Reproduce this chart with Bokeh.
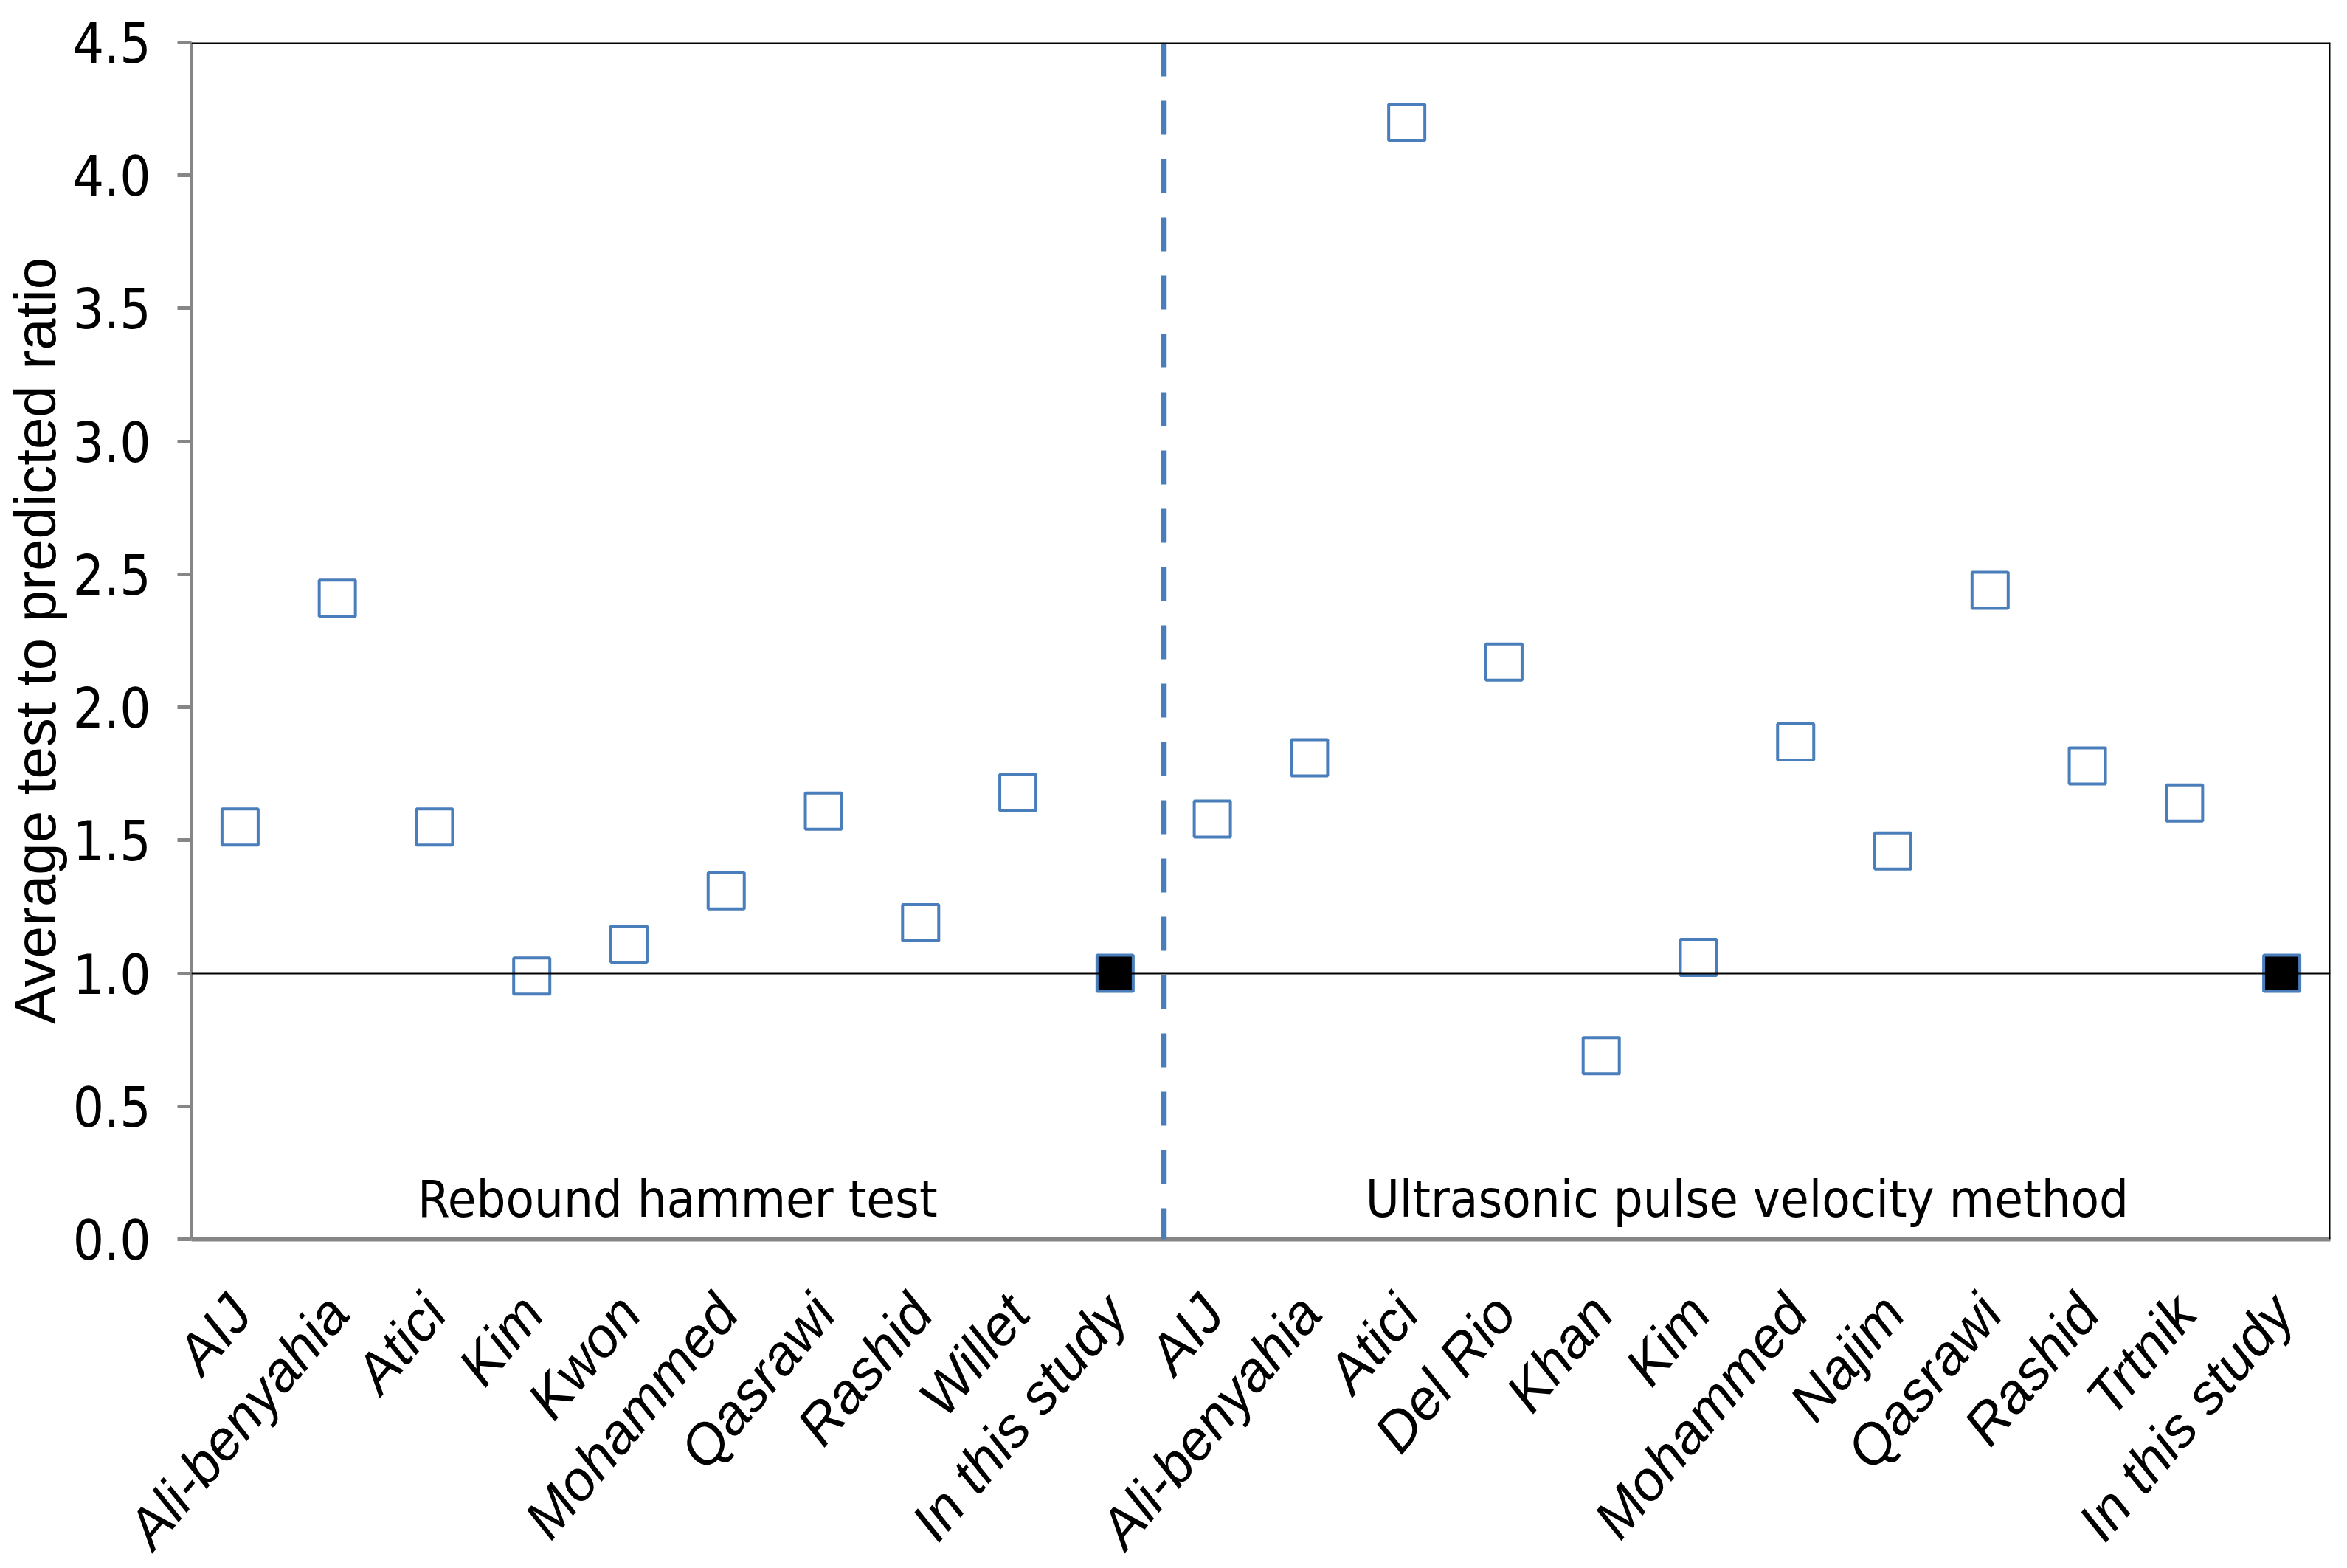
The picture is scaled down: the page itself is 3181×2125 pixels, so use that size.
import math
from bokeh.plotting import figure
from bokeh.models import ColumnDataSource, FixedTicker, Span, Label
from bokeh.embed import file_html
from bokeh.resources import INLINE

# ---- data ----
rebound_labels = ["AIJ", "Ali-benyahia", "Atici", "Kim", "Kwon", "Mohammed",
                  "Qasrawi", "Rashid", "Willet", "In this study"]
rebound_values = [1.55, 2.41, 1.55, 0.99, 1.11, 1.31, 1.61, 1.19, 1.68, 1.00]

upv_labels = ["AIJ", "Ali-benyahia", "Atici", "Del Rio", "Khan", "Kim", "Mohammed",
              "Najim", "Qasrawi", "Rashid", "Trtnik", "In this study"]
upv_values = [1.58, 1.81, 4.20, 2.17, 0.69, 1.06, 1.87, 1.46, 2.44, 1.78, 1.64, 1.00]

section_titles = ["Rebound hammer test", "Ultrasonic pulse velocity method"]
y_ticks = [0.0, 0.5, 1.0, 1.5, 2.0, 2.5, 3.0, 3.5, 4.0, 4.5]
y_label = "Average test to predicted ratio"
reference_ratio = 1.0

BLUE = "#4A7EBB"
GRAY = "#868686"
NARROW = ("'Liberation Sans Narrow', 'DejaVu Sans Condensed', 'Roboto Condensed', "
          "'Arial Narrow', 'Liberation Sans', sans-serif")
SANS = "'Liberation Sans', Arial, sans-serif"

all_labels = rebound_labels + upv_labels
all_values = rebound_values + upv_values
n_reb = len(rebound_labels)
n_all = len(all_labels)
xs = [i + 0.5 for i in range(n_all)]
is_study = [lab == "In this study" for lab in all_labels]

open_src = ColumnDataSource(dict(
    x=[x for x, s in zip(xs, is_study) if not s],
    y=[v for v, s in zip(all_values, is_study) if not s]))
study_src = ColumnDataSource(dict(
    x=[x for x, s in zip(xs, is_study) if s],
    y=[v for v, s in zip(all_values, is_study) if s]))

p = figure(frame_width=2899, frame_height=1622,
           x_range=(0, n_all), y_range=(0, 4.5),
           output_backend="svg", toolbar_location=None,
           min_border_left=250, min_border_right=16,
           min_border_top=57, min_border_bottom=300)
p.outline_line_color = None
p.xgrid.visible = False
p.ygrid.visible = False
p.background_fill_color = "white"
p.border_fill_color = "white"

# reference line at 1.0
p.add_layout(Span(location=reference_ratio, dimension="width",
                  line_color="black", line_width=3))
# divider between the two methods
p.add_layout(Span(location=n_reb, dimension="height",
                  line_color=BLUE, line_width=8, line_dash="46 33"))
# top and right borders
p.add_layout(Span(location=4.5, dimension="width", line_color="black", line_width=4))
p.add_layout(Span(location=n_all, dimension="height", line_color="black", line_width=3))

p.scatter("x", "y", source=open_src, marker="square", size=49,
          fill_color="white", line_color=BLUE, line_width=4)
p.scatter("x", "y", source=study_src, marker="square", size=49,
          fill_color="black", line_color=BLUE, line_width=4)

# section titles
p.add_layout(Label(x=n_reb / 2, y=0.15, text=section_titles[0],
                   text_align="center", text_baseline="middle",
                   text_font=NARROW, text_font_size="70px", text_color="black"))
p.add_layout(Label(x=n_reb + (n_all - n_reb) / 2, y=0.15, text=section_titles[1],
                   text_align="center", text_baseline="middle",
                   text_font=NARROW, text_font_size="70px", text_color="black"))

# x axis
p.xaxis.ticker = FixedTicker(ticks=xs)
p.xaxis.major_label_overrides = {x: lab for x, lab in zip(xs, all_labels)}
p.xaxis.major_label_orientation = math.radians(50)
p.xaxis.major_label_text_font = SANS
p.xaxis.major_label_text_font_style = "italic"
p.xaxis.major_label_text_font_size = "76px"
p.xaxis.major_label_text_color = "black"
p.xaxis.major_label_standoff = 80
p.xaxis.major_tick_line_color = None
p.xaxis.minor_tick_line_color = None
p.xaxis.axis_line_color = GRAY
p.xaxis.axis_line_width = 6

# y axis
p.yaxis.ticker = FixedTicker(ticks=y_ticks)
p.yaxis.major_label_overrides = {t: f"{t:.1f}" for t in y_ticks}
p.yaxis.major_label_text_font = NARROW
p.yaxis.major_label_text_font_size = "74px"
p.yaxis.major_label_text_color = "black"
p.yaxis.major_label_standoff = 36
p.yaxis.major_tick_out = 19
p.yaxis.major_tick_in = 0
p.yaxis.major_tick_line_color = GRAY
p.yaxis.major_tick_line_width = 5
p.yaxis.minor_tick_line_color = None
p.yaxis.axis_line_color = GRAY
p.yaxis.axis_line_width = 4
p.yaxis.axis_label = y_label
p.yaxis.axis_label_text_font = SANS
p.yaxis.axis_label_text_font_style = "normal"
p.yaxis.axis_label_text_font_size = "78px"
p.yaxis.axis_label_text_color = "black"
p.yaxis.axis_label_standoff = 4

open("out.html", "w").write(file_html(p, INLINE))
